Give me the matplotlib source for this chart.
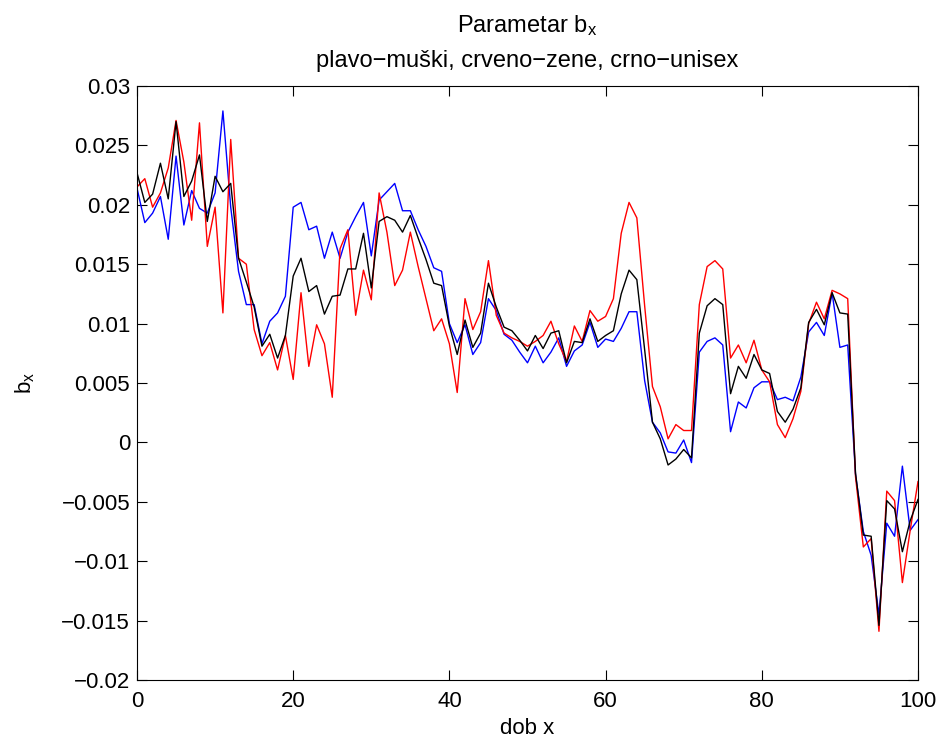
import matplotlib
matplotlib.use('Agg')
import matplotlib.pyplot as plt
import numpy as np

plt.rcParams['font.family'] = ['Liberation Sans', 'DejaVu Sans']
plt.rcParams['mathtext.fontset'] = 'custom'
plt.rcParams['mathtext.rm'] = 'Liberation Sans'
plt.rcParams['mathtext.it'] = 'Liberation Sans'

# dob x = 0..100
ages = np.arange(0, 101)

# plavo - muski (values * 1e-3)
bx_muski = [21.4, 18.5, 19.3, 20.7, 17.1, 24.1, 18.3, 21.2, 19.7, 19.3,
            21.0, 27.9, 19.8, 14.4, 11.6, 11.6, 8.3, 10.2, 10.9, 12.3,
            19.8, 20.2, 17.9, 18.2, 15.5, 17.7, 15.5, 17.7, 19.0, 20.2,
            15.7, 20.4, 21.1, 21.8, 19.5, 19.5, 17.9, 16.5, 14.7, 14.4,
            10.0, 8.4, 9.9, 7.4, 8.4, 12.1, 11.1, 9.1, 8.6, 7.6,
            6.7, 8.1, 6.7, 7.6, 8.8, 6.4, 7.7, 8.2, 10.1, 8.0,
            8.7, 8.5, 9.6, 11.0, 11.0, 5.2, 1.7, 0.8, -0.8, -0.9,
            0.2, -1.7, 7.6, 8.5, 8.8, 8.2, 0.9, 3.4, 2.9, 4.6,
            5.1, 5.1, 3.6, 3.8, 3.5, 5.5, 9.3, 10.1, 9.0, 12.6,
            8.0, 8.2, -2.7, -7.5, -9.5, -14.5, -6.8, -7.9, -2.0, -7.4,
            -6.5]

# crveno - zene
bx_zene = [21.5, 22.2, 19.8, 21.0, 23.1, 27.1, 23.6, 18.7, 26.9, 16.5,
           19.8, 10.9, 25.5, 15.5, 15.0, 9.5, 7.3, 8.4, 6.1, 9.0,
           5.3, 12.6, 6.4, 9.9, 8.3, 3.8, 16.3, 17.9, 10.7, 14.5,
           12.0, 21.0, 17.7, 13.2, 14.5, 17.7, 14.8, 12.1, 9.4, 10.4,
           8.3, 4.2, 12.1, 9.5, 11.0, 15.3, 10.7, 9.2, 8.8, 8.5,
           8.1, 8.5, 9.0, 10.2, 8.3, 6.8, 9.8, 8.5, 11.1, 10.2,
           10.6, 12.1, 17.6, 20.2, 18.9, 11.5, 4.7, 3.0, 0.3, 1.5,
           1.0, 1.0, 11.6, 14.8, 15.3, 14.6, 7.1, 8.2, 6.7, 8.6,
           6.1, 5.1, 1.5, 0.4, 2.0, 4.3, 10.0, 11.8, 10.4, 12.8,
           12.5, 12.1, -2.9, -8.8, -8.1, -15.9, -4.1, -4.9, -11.8, -7.4,
           -3.3]

# crno - unisex
bx_unisex = [22.7, 20.2, 20.9, 23.5, 20.5, 27.0, 20.7, 22.0, 24.2, 18.6,
             22.4, 21.1, 21.8, 15.5, 13.5, 11.4, 8.1, 9.1, 7.1, 9.0,
             14.0, 15.5, 12.7, 13.2, 10.8, 12.3, 12.4, 14.6, 14.6, 17.6,
             13.0, 18.6, 19.0, 18.7, 17.7, 19.1, 17.2, 15.4, 13.4, 13.2,
             9.8, 7.4, 10.3, 8.0, 9.2, 13.4, 11.4, 9.7, 9.4, 8.6,
             7.7, 9.0, 7.9, 9.2, 9.4, 6.7, 8.5, 8.4, 10.4, 8.5,
             9.0, 9.4, 12.5, 14.5, 13.7, 7.8, 1.7, 0.3, -1.9, -1.4,
             -0.6, -1.3, 9.2, 11.5, 12.1, 11.6, 4.1, 6.4, 5.4, 7.4,
             6.1, 5.8, 2.6, 1.7, 2.8, 4.6, 10.1, 11.2, 9.9, 12.6,
             10.9, 10.8, -2.6, -7.8, -7.9, -15.4, -4.9, -5.6, -9.2, -6.6,
             -4.8]

yticks = [0.03, 0.025, 0.02, 0.015, 0.01, 0.005, 0, -0.005, -0.01, -0.015, -0.02]
ytick_labels = ['0.03', '0.025', '0.02', '0.015', '0.01', '0.005', '0',
                '\u22120.005', '\u22120.01', '\u22120.015', '\u22120.02']
xticks = [0, 20, 40, 60, 80, 100]

W, H = 941, 740
fig = plt.figure(figsize=(W / 100, H / 100), dpi=100)
ax = fig.add_axes([137 / W, 60 / H, 781 / W, 594 / H])

ax.plot(ages, np.array(bx_muski) * 1e-3, color=(0, 0, 1), lw=1.0)
ax.plot(ages, np.array(bx_zene) * 1e-3, color=(1, 0, 0), lw=1.0)
ax.plot(ages, np.array(bx_unisex) * 1e-3, color='black', lw=1.0)

ax.set_xlim(0, 100)
ax.set_ylim(-0.02, 0.03)
ax.set_xticks(xticks)
ax.set_xticklabels([str(x) for x in xticks])
ax.set_yticks(yticks)
ax.set_yticklabels(ytick_labels)
ax.tick_params(direction='in', top=True, right=True, length=7, width=0.8,
               labelsize=16)
ax.tick_params(axis='y', pad=5)
ax.tick_params(axis='x', pad=8)
for sp in ax.spines.values():
    sp.set_linewidth(0.8)

# title, two lines, baselines
fig.text(527.5 / W, 1 - 32 / H, 'Parametar b$_{\\mathrm{x}}$', fontsize=17,
         ha='center', va='baseline')
fig.text(527.5 / W, 1 - 67 / H, 'plavo\u2212muški, crveno\u2212zene, crno\u2212unisex',
         fontsize=17, ha='center', va='baseline')

ax.set_xlabel('dob x', fontsize=16, labelpad=4)
fig.text(13 / W, 1 - 383 / H, 'b$_{\\mathrm{x}}$', fontsize=16, rotation=90,
         ha='left', va='center')

fig.savefig('out.png', dpi=100)
plt.close(fig)
